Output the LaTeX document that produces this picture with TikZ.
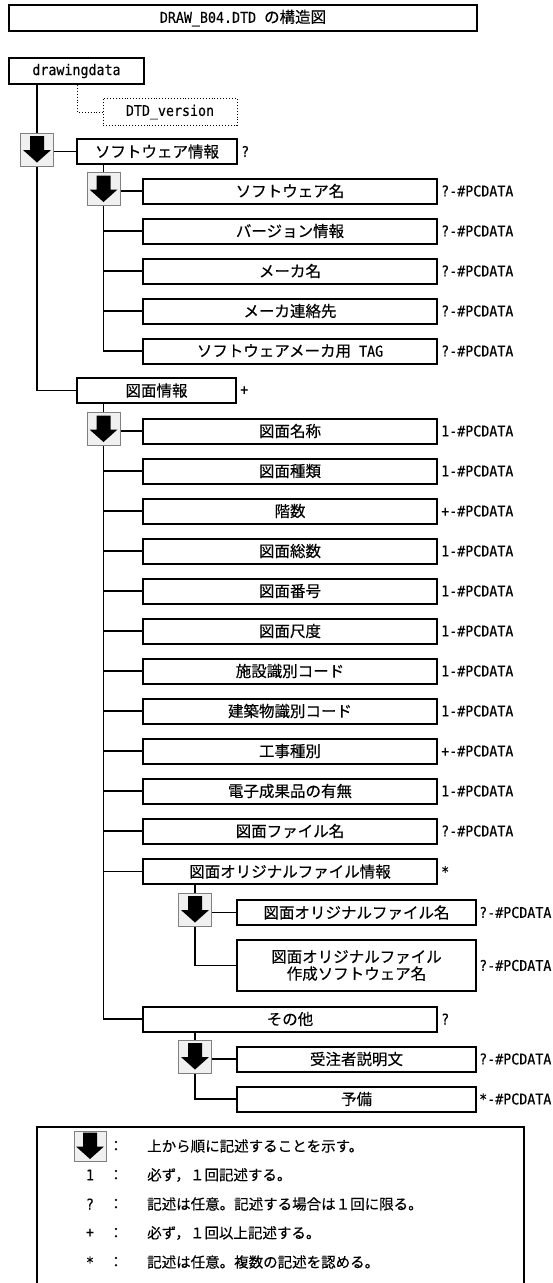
\documentclass[tikz,border=0pt]{standalone}
\usepackage{fontspec}
\setmainfont{Noto Sans CJK JP}[FakeBold=0.3]
\newfontfamily\mfam[FakeStretch=0.9,FakeBold=0.3]{DejaVu Sans Mono}
\newcommand\mf{\mfam\fontsize{14.8pt}{17pt}\selectfont}
\newcommand\jf{\fontsize{15.5pt}{18pt}\selectfont}
\newcommand\lf{\fontsize{14.5pt}{17pt}\selectfont}
\definecolor{seqfill}{HTML}{F0F0F0}
\definecolor{seqline}{HTML}{808080}
\begin{document}
\begin{tikzpicture}[x=1pt,y=-1pt,
  box/.style={draw, line width=2pt, minimum height=25pt, inner sep=0pt, font=\jf},
  cbox/.style={box, minimum width=294pt},
  sbox/.style={box, minimum width=239pt},
  dbox/.style={draw, dotted, line width=0.9pt, minimum height=27pt, inner sep=0pt, font=\mf},
  conn/.style={line width=1.8pt},
  lbl/.style={font=\mf, inner sep=0pt, anchor=west},
  lg/.style={font=\lf, inner sep=0pt},
  seqbox/.style={draw=seqline, line width=0.8pt, fill=seqfill, minimum width=33pt, minimum height=33pt, inner sep=0pt,
    path picture={\fill[black, shift={(path picture bounding box.center)}]
      (-7,-13.5) -- (7,-13.5) -- (7,0.5) -- (14,0.5) -- (0,13) -- (-14,0.5) -- (-7,0.5) -- cycle;}}
]
\useasboundingbox (0,0) rectangle (552,1283);
\fill[white] (0,0) rectangle (552,1283);

% title
\node[box, minimum width=468pt, minimum height=26pt] (title) at (243,18) {{\mf DRAW\_B04.DTD\ }の構造図};

% root
\node[box, minimum width=135pt, minimum height=26pt, font=\mf] (dd) at (76.5,71) {drawingdata};
\node[dbox, minimum width=134pt] (dtd) at (170,112) {DTD\_version};
\coordinate (dtdjoint) at (77,112);
\draw[dotted, line width=0.9pt] (dd.south -| dtdjoint) -- (dtdjoint) -- (dtd.west);

% software info
\node[box, minimum width=160pt] (sw) at (157,151.5) {ソフトウェア情報};
\node[lbl] (swl) at ([xshift=3pt]sw.east) {?};
\node[cbox] (s1) at (290,191) {ソフトウェア名};
\node[cbox] (s2) at (290,231) {バージョン情報};
\node[cbox] (s3) at (290,271) {メーカ名};
\node[cbox] (s4) at (290,311) {メーカ連絡先};
\node[cbox] (s5) at (290,351) {ソフトウェアメーカ用{\mf\ TAG}};
\foreach \n in {s1,s2,s3,s4,s5} {\node[lbl] (\n l) at ([xshift=3pt]\n.east) {?-\#PCDATA};}

% drawing info
\node[box, minimum width=159pt] (zu) at (156.5,390.5) {図面情報};
\node[lbl] (zul) at ([xshift=3pt]zu.east) {+};
\node[cbox] (z1) at (290,431) {図面名称};
\node[cbox] (z2) at (290,471) {図面種類};
\node[cbox] (z3) at (290,511) {階数};
\node[cbox] (z4) at (290,551) {図面総数};
\node[cbox] (z5) at (290,591) {図面番号};
\node[cbox] (z6) at (290,631) {図面尺度};
\node[cbox] (z7) at (290,671) {施設識別コード};
\node[cbox] (z8) at (290,711) {建築物識別コード};
\node[cbox] (z9) at (290,751) {工事種別};
\node[cbox] (z10) at (290,791) {電子成果品の有無};
\node[cbox] (z11) at (290,831) {図面ファイル名};
\node[cbox] (zo) at (290,871.5) {図面オリジナルファイル情報};
\node[cbox] (zs) at (290,1019) {その他};
\foreach \n/\m in {z1/1,z2/1,z3/+,z4/1,z5/1,z6/1,z7/1,z8/1,z9/+,z10/1,z11/?} {\node[lbl] (\n l) at ([xshift=3pt]\n.east) {\m-\#PCDATA};}
\node[lbl] (zol) at ([xshift=3pt]zo.east) {*};
\node[lbl] (zsl) at ([xshift=3pt]zs.east) {?};

\node[sbox] (o1) at (356.5,912.5) {図面オリジナルファイル名};
\node[sbox, minimum height=51pt, align=center] (o2) at (356.5,965.5) {図面オリジナルファイル\\[-1pt]作成ソフトウェア名};
\node[lbl] (o1l) at ([xshift=2pt]o1.east) {?-\#PCDATA};
\node[lbl] (o2l) at ([xshift=2pt]o2.east) {?-\#PCDATA};

\node[sbox] (e1) at (356.5,1059) {受注者説明文};
\node[sbox] (e2) at (356.5,1099) {予備};
\node[lbl] (e1l) at ([xshift=2pt]e1.east) {?-\#PCDATA};
\node[lbl] (e2l) at ([xshift=2pt]e2.east) {*-\#PCDATA};

% connectors
\coordinate (a1pos) at (37,149.5);
\draw[conn] (dd.south -| a1pos) -- (a1pos) -- (a1pos |- zu.west) -- (zu.west);
\draw[conn] (a1pos |- sw.west) -- (sw.west);

\coordinate (a2pos) at (103.5,189);
\draw[conn] (sw.south -| a2pos) -- (a2pos |- s5.west) -- (s5.west);
\foreach \n in {s1,s2,s3,s4} {\draw[conn] (a2pos |- \n.west) -- (\n.west);}

\coordinate (a3pos) at (103.5,429);
\draw[conn] (zu.south -| a3pos) -- (a3pos |- zs.west) -- (zs.west);
\foreach \n in {z1,z2,z3,z4,z5,z6,z7,z8,z9,z10,z11,zo} {\draw[conn] (a3pos |- \n.west) -- (\n.west);}

\coordinate (a4pos) at (195,909.5);
\draw[conn] (zo.south -| a4pos) -- (a4pos |- o2.west) -- (o2.west);
\draw[conn] (a4pos |- o1.west) -- (o1.west);

\coordinate (a5pos) at (195,1056.5);
\draw[conn] (zs.south -| a5pos) -- (a5pos |- e2.west) -- (e2.west);
\draw[conn] (a5pos |- e1.west) -- (e1.west);

% sequence boxes
\node[seqbox] (a1) at (a1pos) {};
\node[seqbox] (a2) at (a2pos) {};
\node[seqbox] (a3) at (a3pos) {};
\node[seqbox] (a4) at (a4pos) {};
\node[seqbox] (a5) at (a5pos) {};

% legend
\node[draw, line width=2pt, minimum width=487pt, minimum height=200pt, anchor=north west, inner sep=0pt] (legend) at (36,1126) {};
\node[seqbox, minimum width=32pt, minimum height=30pt] (lg1) at (90,1146) {};
\node[lg, font=\mf] (lg2) at (90,1175) {1};
\node[lg, font=\mf] (lg3) at (90,1204) {?};
\node[lg, font=\mf] (lg4) at (90,1233) {+};
\node[lg, font=\mf] (lg5) at (90,1262) {*};
\foreach \i/\y in {1/1146,2/1175,3/1204,4/1233,5/1262} {\node[lg] (lc\i) at (116,\y) {：};}
\node[lg, anchor=west] (lt1) at (147,1146) {上から順に記述することを示す。};
\node[lg, anchor=west] (lt2) at (147,1175) {必ず，１回記述する。};
\node[lg, anchor=west] (lt3) at (147,1204) {記述は任意。記述する場合は１回に限る。};
\node[lg, anchor=west] (lt4) at (147,1233) {必ず，１回以上記述する。};
\node[lg, anchor=west] (lt5) at (147,1262) {記述は任意。複数の記述を認める。};
\end{tikzpicture}
\end{document}
